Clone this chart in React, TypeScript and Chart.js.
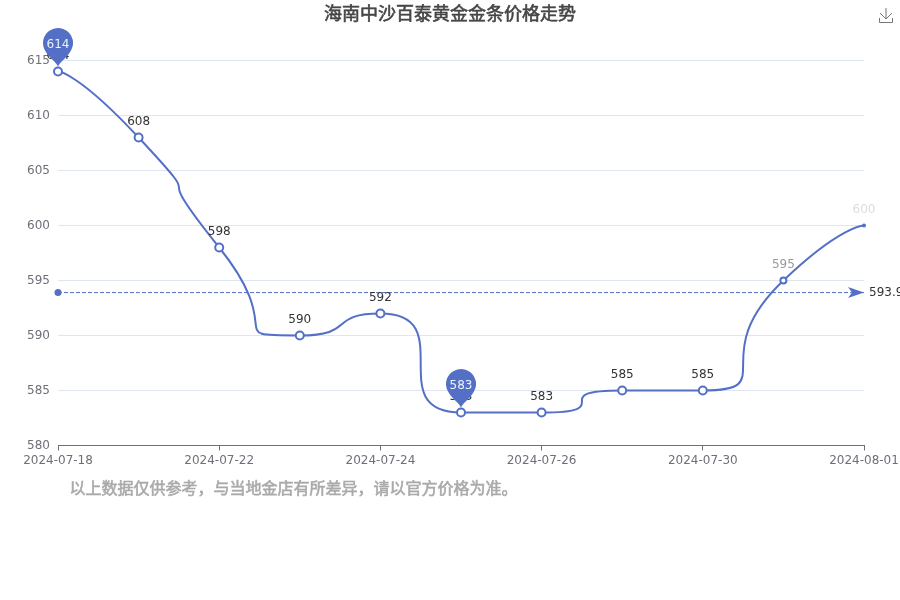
import React, { useEffect, useRef } from "react";
import { Chart, registerables } from "chart.js";

Chart.register(...registerables);

const categories = [
  "2024-07-18", "2024-07-20", "2024-07-22", "2024-07-23", "2024-07-24",
  "2024-07-25", "2024-07-26", "2024-07-29", "2024-07-30", "2024-07-31",
  "2024-08-01",
];
const prices = [614, 608, 598, 590, 592, 583, 583, 585, 585, 595, 600];
const averagePrice = 593.9;
const yTicks = [580, 585, 590, 595, 600, 605, 610, 615];
const pinIndexes = [0, 5];
const labelColors: Record<number, string> = { 9: "#999999", 10: "#dcdcdc" };
const titleText = "海南中沙百泰黄金金条价格走势";
const noteText = "以上数据仅供参考，与当地金店有所差异，请以官方价格为准。";
const BLUE = "#5470c6";
const FONT = '"DejaVu Sans"';
const CJK_FONT = '"Noto Sans CJK SC"';

const clamp = (v: number, a: number, b: number) =>
  Math.max(Math.min(a, b), Math.min(v, Math.max(a, b)));

// Constrains the spline so that it never overshoots its neighbouring points.
const constrainedSpline = {
  id: "constrainedSpline",
  beforeDatasetDraw(chart: any, args: any) {
    if (args.index === 0) return;
    const meta = chart.getDatasetMeta(args.index);
    meta.dataset.updateControlPoints(chart.chartArea, "x");
    const pts = meta.data;
    pts.forEach((p: any, i: number) => {
      const prev = pts[i - 1];
      const next = pts[i + 1];
      if (!prev || !next) {
        p.cp1x = p.x; p.cp1y = p.y; p.cp2x = p.x; p.cp2y = p.y;
        return;
      }
      const lenPrev = Math.hypot(p.x - prev.x, p.y - prev.y);
      const lenNext = Math.hypot(next.x - p.x, next.y - p.y);
      const ratio = lenNext / (lenNext + lenPrev);
      const vx = next.x - prev.x;
      const vy = next.y - prev.y;
      let ax = clamp(p.x + vx * ratio, p.x, next.x);
      let ay = clamp(p.y + vy * ratio, p.y, next.y);
      let bx = p.x - (ax - p.x) * lenPrev / lenNext;
      let by = p.y - (ay - p.y) * lenPrev / lenNext;
      bx = clamp(bx, prev.x, p.x);
      by = clamp(by, prev.y, p.y);
      ax = p.x + (p.x - bx) * lenNext / lenPrev;
      ay = p.y + (p.y - by) * lenNext / lenPrev;
      p.cp1x = bx; p.cp1y = by; p.cp2x = ax; p.cp2y = ay;
    });
  },
};

const overlay = {
  id: "overlay",
  afterDatasetsDraw(chart: any) {
    const { ctx, scales } = chart;
    const x = scales.x;
    const y = scales.y;
    ctx.save();

    ctx.textAlign = "center";
    ctx.textBaseline = "middle";
    ctx.fillStyle = "#464646";
    ctx.strokeStyle = "#464646";
    ctx.lineWidth = 0.6;
    ctx.font = `18px ${CJK_FONT}`;
    ctx.fillText(titleText, 450, 13.5);
    ctx.strokeText(titleText, 450, 13.5);
    ctx.textAlign = "left";
    ctx.fillStyle = "#aaaaaa";
    ctx.strokeStyle = "#aaaaaa";
    ctx.font = `16px ${CJK_FONT}`;
    ctx.fillText(noteText, 69.5, 487.5);
    ctx.strokeText(noteText, 69.5, 487.5);

    ctx.font = `12px ${FONT}`;
    ctx.textAlign = "center";
    prices.forEach((v, i) => {
      ctx.fillStyle = labelColors[i] || "#333333";
      ctx.fillText(String(v), x.getPixelForValue(i), y.getPixelForValue(v) - 16);
    });

    const ay = y.getPixelForValue(averagePrice);
    const ax = x.right;
    ctx.fillStyle = BLUE;
    ctx.beginPath();
    ctx.moveTo(ax, ay);
    ctx.lineTo(ax - 16, ay - 5.5);
    ctx.lineTo(ax - 12, ay);
    ctx.lineTo(ax - 16, ay + 5.5);
    ctx.closePath();
    ctx.fill();
    ctx.fillStyle = "#333333";
    ctx.textAlign = "left";
    ctx.fillText(String(averagePrice), ax + 5, ay);

    pinIndexes.forEach((i) => {
      const px = x.getPixelForValue(i);
      const py = y.getPixelForValue(prices[i]);
      const cy = py - 28.5;
      const r = 15;
      const c = Math.cos(Math.PI * 0.15);
      const s = Math.sin(Math.PI * 0.15);
      ctx.fillStyle = BLUE;
      ctx.beginPath();
      ctx.arc(px, cy, r, Math.PI * 0.85, Math.PI * 0.15, false);
      ctx.bezierCurveTo(px + 9, cy + 15, px + 2, cy + 19, px, py - 5);
      ctx.bezierCurveTo(px - 2, cy + 19, px - 9, cy + 15, px - r * c, cy + r * s);
      ctx.closePath();
      ctx.fill();
      ctx.fillStyle = "rgba(255,255,255,0.9)";
      ctx.textAlign = "center";
      ctx.fillText(String(prices[i]), px, cy + 2);
    });

    ctx.strokeStyle = "#777777";
    ctx.lineWidth = 1;
    ctx.beginPath();
    ctx.moveTo(886, 8);
    ctx.lineTo(886, 19);
    ctx.moveTo(880, 13);
    ctx.lineTo(886, 19);
    ctx.lineTo(892, 13);
    ctx.moveTo(879.5, 18);
    ctx.lineTo(879.5, 22.5);
    ctx.lineTo(892.5, 22.5);
    ctx.lineTo(892.5, 18);
    ctx.stroke();
    ctx.restore();
  },
};

export default function App() {
  const ref = useRef<HTMLCanvasElement>(null);
  useEffect(() => {
    const chart = new Chart(ref.current as HTMLCanvasElement, {
      type: "line",
      data: {
        labels: categories,
        datasets: [
          {
            data: categories.map(() => averagePrice),
            borderColor: BLUE,
            borderWidth: 1,
            borderDash: [4, 2],
            pointRadius: (c: any) => (c.dataIndex === 0 ? 3.5 : 0),
            pointBackgroundColor: BLUE,
            pointBorderWidth: 0,
            tension: 0,
          },
          {
            data: prices,
            borderColor: BLUE,
            borderWidth: 2,
            tension: 1,
            clip: false,
            pointRadius: (c: any) => (c.dataIndex === 10 ? 2 : c.dataIndex === 9 ? 3 : 4),
            pointBackgroundColor: (c: any) => (c.dataIndex === 10 ? BLUE : "#ffffff"),
            pointBorderColor: BLUE,
            pointBorderWidth: (c: any) => (c.dataIndex === 10 ? 0 : 2),
          },
        ],
      } as any,
      options: {
        responsive: false,
        animation: false,
        layout: { padding: { top: 60.5, right: 36, left: 0, bottom: 0 } },
        plugins: { legend: { display: false }, tooltip: { enabled: false } },
        scales: {
          x: {
            type: "category",
            offset: false,
            afterFit: (s: any) => { s.height = 154.5; s.paddingRight = 0; s.paddingLeft = 0; },
            border: { color: "#6e7079", width: 1 },
            grid: {
              drawOnChartArea: false,
              drawTicks: true,
              tickLength: 5,
              tickColor: (c: any) => (c.index % 2 === 0 ? "#6e7079" : "rgba(0,0,0,0)"),
            },
            ticks: {
              autoSkip: false,
              maxRotation: 0,
              minRotation: 0,
              padding: 3,
              color: "#6e7079",
              font: { family: FONT, size: 12 },
              callback: (_v: any, i: number) => (i % 2 === 0 ? categories[i] : ""),
            },
          },
          y: {
            min: yTicks[0],
            max: yTicks[yTicks.length - 1],
            afterFit: (s: any) => { s.width = 58; },
            afterBuildTicks: (s: any) => { s.ticks = yTicks.map((value) => ({ value })); },
            border: { display: false },
            grid: { color: "#e0e6f1", tickLength: 0 },
            ticks: {
              padding: 8,
              labelOffset: 0.5,
              color: "#6e7079",
              font: { family: FONT, size: 12 },
            },
          },
        },
      },
      plugins: [constrainedSpline, overlay],
    } as any);
    return () => chart.destroy();
  }, []);
  return (
    <canvas
      ref={ref}
      width={900}
      height={600}
      style={{ position: "fixed", left: 0, top: 0, width: 900, height: 600 }}
    />
  );
}
